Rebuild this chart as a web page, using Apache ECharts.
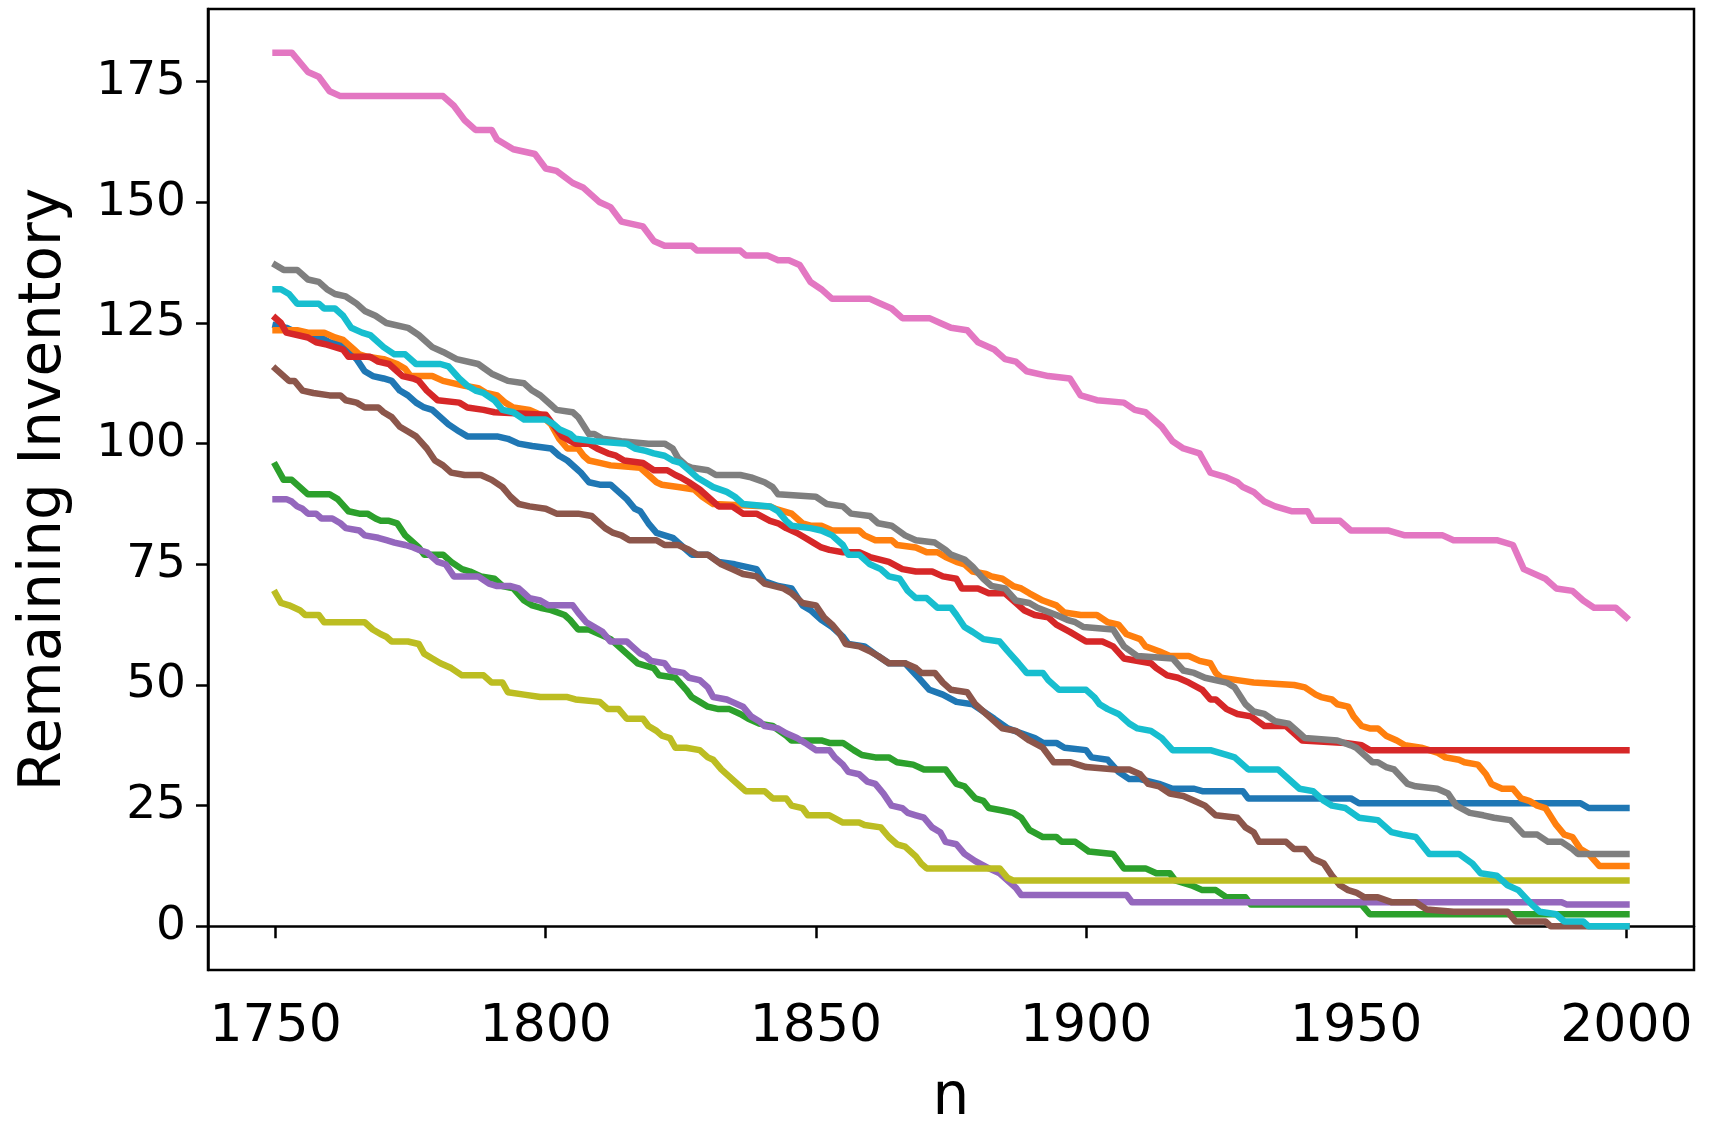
<!DOCTYPE html>
<html>
<head>
<meta charset="utf-8">
<title>Remaining Inventory</title>
<script src="https://cdn.jsdelivr.net/npm/echarts@6/dist/echarts.min.js"></script>
<style>
  html, body { margin: 0; padding: 0; background: #fff; }
  #chart { width: 1709px; height: 1125px; }
</style>
</head>
<body>
<div id="chart"></div>
<script>
// tick labels
var xTicks = [1750, 1800, 1850, 1900, 1950, 2000];
var yTicks = [0, 25, 50, 75, 100, 125, 150, 175];

// tab10 colours, in plotting order
var colors = ['#1f77b4', '#ff7f0e', '#2ca02c', '#d62728', '#9467bd',
              '#8c564b', '#e377c2', '#7f7f7f', '#bcbd22', '#17becf'];

// [n, remaining inventory]
var blue = [[1750,124.5],[1752,124],[1754,123],[1756.5,122],[1758.5,122],[1760,121],[1762,120.5],[1763.5,119],[1765,117.5],[1766.5,115],[1768,114],[1770,113.5],[1771.5,113],[1773,111],[1774.5,110],[1776,108.5],[1777.5,107.5],[1779,107],[1780.5,105.5],[1782,104],[1784,102.5],[1785.5,101.5],[1791,101.5],[1793,101],[1795,100],[1797.5,99.5],[1801,99],[1802.5,97.5],[1804,96.5],[1805.5,95],[1806.5,94],[1808,92],[1810,91.5],[1812,91.5],[1813.5,90],[1815,88.5],[1816.5,86.5],[1817.5,86],[1819,83.5],[1820.5,81.5],[1822,81],[1823.5,80.5],[1825,79],[1827,77],[1830,77],[1832,75.5],[1835,75],[1839,74],[1840.5,71.5],[1843,70.5],[1845.5,70],[1847.5,66.5],[1849,65.5],[1851,63.5],[1853,62],[1855,60],[1856,58.5],[1859,58],[1861.5,56],[1863.5,54.5],[1866.5,54.5],[1869,51.5],[1871,49],[1873.5,48],[1876,46.5],[1879,46],[1881,44.5],[1883,43],[1885.5,41],[1888,40],[1890.5,39],[1892,38],[1894.5,38],[1896,37],[1900,36.5],[1901,35],[1904,34.5],[1906,32],[1908,30.5],[1910,30.5],[1913.5,29.5],[1916,28.5],[1920,28.5],[1921.5,28],[1929,28],[1930,26.5],[1949,26.5],[1950.5,25.5],[1991.5,25.5],[1993,24.5],[2000,24.5]];

var orange = [[1750,123.5],[1754,123.5],[1756,123],[1759,123],[1761,122],[1762.5,121.5],[1763.5,120.5],[1764.5,119.5],[1765.5,118.5],[1767,118],[1770,117.5],[1772.5,116.5],[1774,115.5],[1775,114],[1779,114],[1781,113],[1783,112.5],[1785,112],[1787.5,111.5],[1789,110.5],[1791,110],[1792.5,108.5],[1794,107.5],[1797,107],[1799,106],[1801,104],[1802.5,101],[1804,99],[1806,99],[1807,97.5],[1808,96.5],[1810,96],[1812,95.5],[1817.5,95],[1819,93.5],[1820.5,92],[1821.5,91.5],[1824.5,91],[1827.5,90.5],[1829,89],[1831,87.5],[1841.5,87],[1842.5,86.5],[1845.5,85.5],[1847.5,83.5],[1849,83],[1851,83],[1853,82],[1858,82],[1859,81],[1861,80],[1864,80],[1865,79],[1868.5,78.5],[1870.5,77.5],[1872.5,77.5],[1874,76.5],[1876,75.5],[1877.5,75],[1879,73.5],[1881.5,73],[1882.5,72.5],[1884.5,72],[1886.5,70.5],[1888,70],[1889.5,69],[1892,67.5],[1894.5,66.5],[1896,65],[1899,64.5],[1902,64.5],[1904,63],[1906,62.5],[1907.5,60.5],[1910,59.5],[1911,58],[1913.5,57],[1915.5,56],[1919,56],[1921,55],[1923,54.5],[1924,52.5],[1925,51.5],[1928,51],[1931,50.5],[1938.5,50],[1940.5,49.5],[1942.5,48],[1943.5,47.5],[1945.5,47],[1946.5,46],[1948.5,45.5],[1949.5,43.5],[1951,41.5],[1952.5,41],[1954,41],[1955.5,39.5],[1957.5,38.5],[1959,37.5],[1962,37],[1965,36],[1966.5,35],[1969,34.5],[1970,34],[1972.5,33.5],[1974,31.5],[1975,29.5],[1977,28.5],[1979,28.5],[1980.5,26.5],[1982,26],[1983.5,25],[1985,24.5],[1987,21],[1988.5,19],[1990,18.5],[1991.5,16],[1993,15],[1995,12.5],[2000,12.5]];

var green = [[1750,95.5],[1751.5,92.5],[1753,92.5],[1754.5,91],[1756,89.5],[1760,89.5],[1761.5,88.5],[1763.5,86],[1765.5,85.5],[1767,85.5],[1768.5,84.5],[1769.5,84],[1771,84],[1772.5,83.5],[1774,81],[1775,80],[1776.5,78.5],[1777.5,77],[1781,77],[1782.5,75.5],[1784.5,74],[1786,73.5],[1788,72.5],[1790.5,72],[1792,70.5],[1794,70],[1796,67.5],[1797.5,66.5],[1799,66],[1801,65.5],[1803.5,64.5],[1804.5,63.5],[1806,61.5],[1808,61.5],[1810,60.5],[1812,59.5],[1813.5,58],[1815,56.5],[1817,54.5],[1820,53.5],[1821,52],[1824,51.5],[1826,49],[1827,47.5],[1828.5,46.5],[1830,45.5],[1832,45],[1834,45],[1836,44],[1837.5,43],[1839.5,42],[1842,41.5],[1844.5,39.5],[1845.5,38.5],[1851,38.5],[1852.5,38],[1855,38],[1857,36.5],[1858.5,35.5],[1861,35],[1863.5,35],[1865,34],[1868,33.5],[1870,32.5],[1874,32.5],[1876,29.5],[1877.5,29],[1879.5,26.5],[1881,26],[1882,24.5],[1884.5,24],[1886.5,23.5],[1888,22.5],[1889.5,20],[1892,18.5],[1894.5,18.5],[1895.5,17.5],[1898,17.5],[1900.5,15.5],[1905,15],[1907,12],[1911,12],[1913,11],[1915.5,11],[1916.5,9.5],[1919.5,8.5],[1921.5,7.5],[1924,7.5],[1926,6],[1929.5,6],[1930.5,4.5],[1934,4.5],[1951,4.5],[1952.5,2.5],[2000,2.5]];

var red = [[1750,126],[1751,125],[1752,123],[1754,122.5],[1756,122],[1757.5,121],[1759.5,120.5],[1761,120],[1762.5,119.5],[1763.5,118],[1767.5,118],[1769,117],[1771,116.5],[1772.5,115],[1773.5,114],[1775.5,113.5],[1776.5,113],[1778,111],[1780,109],[1784,108.5],[1785.5,107.5],[1788.5,107],[1790.5,106.5],[1800,106],[1802,103],[1803,101.5],[1805.5,100],[1808,100],[1809.5,99],[1811.5,98],[1813,97.5],[1814.5,96.5],[1818,96],[1820,94.5],[1822.5,94.5],[1824,93.5],[1825,93],[1826.5,92],[1828.5,90.5],[1830,89],[1832,87],[1834.5,87],[1836.5,85.5],[1839,85.5],[1841.5,84],[1843,83.5],[1844.5,82.5],[1846.5,81.5],[1848,80.5],[1849.5,79.5],[1851,78.5],[1852.5,78],[1855,77.5],[1858,77.5],[1860,76.5],[1863.5,75.5],[1866,74],[1868.5,73.5],[1871.5,73.5],[1873.5,72.5],[1876,72],[1877,70],[1880,70],[1882,69],[1885,69],[1887,67],[1888.5,65.5],[1890.5,64.5],[1893,64],[1894.5,62.5],[1897,61],[1900,59],[1903,59],[1905,58],[1907,55.5],[1912,54.5],[1913,53.5],[1915,52],[1917,51.5],[1919,50.5],[1921.5,49],[1923,47],[1924,47],[1926,45],[1928,44],[1930.5,43.5],[1933,41.5],[1937,41.5],[1940,38.5],[1948,38],[1951,37.5],[1952.5,36.5],[2000,36.5]];

var purple = [[1750,88.5],[1752,88.5],[1753,88],[1754,87],[1755,86.5],[1756,85.5],[1757.5,85.5],[1758.5,84.5],[1760.5,84.5],[1762,83.5],[1763,82.5],[1765.5,82],[1766.5,81],[1769,80.5],[1770.5,80],[1772,79.5],[1774,79],[1775.5,78.5],[1776.5,78],[1778,77.5],[1780,75.5],[1781.5,75],[1783,72.5],[1787.5,72.5],[1789.5,71],[1791,70.5],[1793.5,70.5],[1795,70],[1796,69],[1797,68],[1799,67.5],[1800.5,66.5],[1805,66.5],[1806,65],[1807.5,63],[1809,62],[1810.5,61],[1812,59],[1815,59],[1816,58],[1817.5,56.5],[1818.5,56],[1819.5,55],[1822,54.5],[1823,53],[1825.5,52.5],[1826.5,51.5],[1828.5,51],[1830,49.5],[1831,47.5],[1833.5,47],[1834.5,46.5],[1836.5,45.5],[1838,43.5],[1839.5,42.5],[1840.5,41.5],[1843,41],[1844.5,40],[1846.5,39],[1848,38],[1850,36.5],[1852.5,36.5],[1853.5,35],[1855,33.5],[1856,32],[1858,31.5],[1859.5,30],[1861,29.5],[1862.5,27.5],[1864,25],[1866,24.5],[1867,23.5],[1868.5,23],[1870,22.5],[1871.5,20.5],[1873,19.5],[1874,17.5],[1876,17],[1877.5,15],[1879.5,13.5],[1882,12],[1884,11],[1885.5,9.5],[1887,8],[1888,6.5],[1907.5,6.5],[1908.5,5],[1988,5],[1989,4.5],[2000,4.5]];

var brown = [[1750,115.5],[1751,114.5],[1752.5,113],[1753.5,113],[1755,111],[1757,110.5],[1760,110],[1762,110],[1763,109],[1765,108.5],[1766.5,107.5],[1769,107.5],[1770,106.5],[1771.5,105.5],[1773,103.5],[1774.5,102.5],[1776,101.5],[1778,99],[1779.5,96.5],[1781,95.5],[1782.5,94],[1785,93.5],[1788,93.5],[1790,92.5],[1792,91],[1793.5,89],[1795,87.5],[1797,87],[1800,86.5],[1802,85.5],[1806,85.5],[1808.5,85],[1809.5,84],[1811,82.5],[1812.5,81.5],[1814,81],[1815.5,80],[1820.5,80],[1822,79],[1824.5,79],[1826.5,78],[1828,77],[1830,77],[1832.5,75],[1834.5,74],[1836.5,73],[1839,72.5],[1840.5,71],[1844,70],[1845.5,69],[1847.5,67],[1850,66.5],[1851.5,64],[1853,62.5],[1854.5,60.5],[1855.5,58.5],[1858,58],[1860,57],[1861.5,56],[1863.5,54.5],[1866.5,54.5],[1868.5,53.5],[1869.5,52.5],[1872,52.5],[1873.5,50.5],[1875,49],[1878,48.5],[1879.5,46],[1882,43.5],[1884.5,41],[1887,40.5],[1889.5,38.5],[1892,37],[1893,35.5],[1894,34],[1897,34],[1900,33],[1905.5,32.5],[1908,32.5],[1910,31.5],[1911.5,29.5],[1913.5,29],[1915.5,27.5],[1918,27],[1920,26],[1922,25],[1924,23],[1928,22.5],[1929.5,20.5],[1931,19.5],[1932,17.5],[1937,17.5],[1938.5,16],[1940.5,16],[1942,14],[1944,13],[1945.5,10.5],[1947,8.5],[1948.5,7.5],[1950,7],[1951.5,6],[1954,6],[1956.5,5],[1961,5],[1963,3.5],[1968,3],[1978,3],[1979.5,1],[1985,1],[1986,0],[2000,0]];

var pink = [[1750,181],[1753,181],[1756,177],[1758,176],[1760,173],[1762,172],[1781,172],[1783,170],[1785,167],[1787,165],[1790,165],[1791,163],[1794,161],[1798,160],[1800,157],[1802,156.5],[1805,154],[1807,153],[1810,150],[1812,149],[1814,146],[1818,145],[1820,142],[1822,141],[1827,141],[1828,140],[1836,140],[1837,139],[1841,139],[1843,138],[1845,138],[1847,137],[1849,133.5],[1851,132],[1853,130],[1860,130],[1862,129],[1864,128],[1866,126],[1871,126],[1873,125],[1875,124],[1878,123.5],[1880,121],[1883,119.5],[1885,117.5],[1887,117],[1889,115],[1893,114],[1897,113.5],[1899,110],[1902,109],[1907,108.5],[1909,107],[1911,106.5],[1914,103.5],[1916,100.5],[1918,99],[1921,98],[1923,94],[1926,93],[1928,92],[1929,91],[1931,90],[1933,88],[1935,87],[1938,86],[1941,86],[1942,84],[1947,84],[1949,82],[1956,82],[1959,81],[1966,81],[1968,80],[1976,80],[1979,79],[1981,74],[1985,72],[1987,70],[1990,69.5],[1992,67.5],[1994,66],[1998,66],[2000,64]];

var gray = [[1750,137],[1751.5,136],[1754,136],[1756,134],[1758,133.5],[1759.5,132],[1761,131],[1763,130.5],[1765,129],[1766.5,127.5],[1768.5,126.5],[1770.5,125],[1774.5,124],[1776.5,122.5],[1779,120],[1781,119],[1783.5,117.5],[1787.5,116.5],[1790,114.5],[1793,113],[1796,112.5],[1797.5,111],[1799,110],[1801,108],[1802,107],[1805,106.5],[1806,105.5],[1808,102],[1809,102],[1810.5,101],[1814,100.5],[1819,100],[1822,100],[1823.5,99],[1824.5,97],[1826,95.5],[1827,95],[1830,94.5],[1831.5,93.5],[1836,93.5],[1838,93],[1840.5,92],[1842,91],[1843,89.5],[1850,89],[1852,87.5],[1855,87],[1856.5,85.5],[1860,85],[1861.5,83.5],[1864,83],[1866.5,81],[1868.5,80],[1872,79.5],[1874,78],[1875,77],[1877.5,76],[1879,74.5],[1881,72],[1882.5,70.5],[1885,70],[1887,67.5],[1889.5,67],[1891,66],[1894.5,64.5],[1896.5,63.5],[1898,63],[1899.5,62],[1905,61.5],[1907,58],[1909.5,56],[1916,55.5],[1918,53],[1920,52.5],[1922,51.5],[1926,50.5],[1927.5,49.5],[1929.5,46],[1931,44.5],[1933,44],[1935,42.5],[1937.5,42],[1939.5,40],[1940.5,39],[1946.5,38.5],[1949,37.5],[1950,37],[1951.5,35.5],[1953,34],[1954,34],[1955.5,33],[1957,32.5],[1959.5,29.5],[1961,29],[1965,28.5],[1967,27.5],[1968.5,25],[1971,23.5],[1973.5,23],[1975.5,22.5],[1978.5,22],[1981,19],[1983.5,19],[1985.5,17.5],[1988,17.5],[1990,16],[1991,15],[2000,15]];

var olive = [[1750,69],[1751,67],[1752.5,66.5],[1754.5,65.5],[1755.5,64.5],[1758,64.5],[1759,63],[1766.5,63],[1768,61.5],[1769.5,60.5],[1770.5,60],[1771.5,59],[1774.5,59],[1776.5,58.5],[1777.5,56.5],[1779,55.5],[1780.5,54.5],[1782.5,53.5],[1784.5,52],[1788.5,52],[1790,50.5],[1792,50.5],[1793,48.5],[1796,48],[1799,47.5],[1804,47.5],[1805.5,47],[1810,46.5],[1811.5,45],[1813.5,45],[1815,43],[1818,43],[1819,41.5],[1820.5,40.5],[1821.5,39.5],[1823,39],[1824,37],[1826,37],[1828.5,36.5],[1830,35],[1831,34.5],[1832.5,32.5],[1834.5,30.5],[1836,29],[1837,28],[1840.5,28],[1842,26.5],[1844.5,26.5],[1845.5,25],[1847.5,24.5],[1848.5,23],[1852.5,23],[1855,21.5],[1858,21.5],[1859,21],[1862,20.5],[1863.5,18.5],[1865,17],[1866.5,16.5],[1868.5,14.5],[1869.5,13],[1870.5,12],[1884,12],[1885.5,10],[1886.5,9.5],[2000,9.5]];

var cyan = [[1750,132],[1751,132],[1752.5,131],[1754,129],[1758,129],[1759,128],[1761,128],[1762.5,126.5],[1764,124],[1766,123],[1767.5,122.5],[1770,120],[1772,118.5],[1774,118.5],[1776,116.5],[1780.5,116.5],[1782,116],[1784,113.5],[1785.5,112],[1787,111],[1788.5,110.5],[1790.5,109],[1792,107],[1794,106.5],[1796,105],[1800,105],[1801.5,104],[1802.5,103],[1804.5,102],[1805.5,101],[1809,100.5],[1815,100],[1816.5,99],[1818.5,98.5],[1820,98],[1822,97.5],[1823.5,96.5],[1825,96],[1826.5,94.5],[1828,93],[1829.5,92],[1831,91],[1833.5,90],[1835,89],[1836.5,87.5],[1841.5,87],[1843,86],[1844.5,84],[1845.5,83],[1849,82.5],[1851,82],[1853,81],[1855,79],[1856,77],[1858,77],[1860,75],[1862,74],[1863.5,72.5],[1865.5,72],[1867,69.5],[1868.5,68],[1870.5,68],[1872.5,66],[1875,66],[1876,64.5],[1877.5,62],[1879,61],[1881,59.5],[1884,59],[1885.5,57],[1887.5,54.5],[1889,52.5],[1892,52.5],[1893,51],[1895,49],[1900,49],[1901.5,47.5],[1902.5,46],[1904,45],[1906,44],[1908,42],[1909.5,41],[1912,40.5],[1914,39],[1916,36.5],[1923,36.5],[1926,35.5],[1927.5,35],[1930,32.5],[1935.5,32.5],[1938,30],[1939.5,28.5],[1942,28],[1944,26],[1945.5,25],[1948,24.5],[1950.5,22.5],[1954,22],[1956.5,19.5],[1958.5,19],[1961,18.5],[1963.5,15],[1969,15],[1971.5,13],[1973,11],[1976,10.5],[1978,8.5],[1980,7.5],[1982.5,4.5],[1984,3],[1987,2.5],[1988.5,1],[1992,1],[1993,0],[2000,0]];

var allSeries = [blue, orange, green, red, purple, brown, pink, gray, olive, cyan];

var chart = echarts.init(document.getElementById('chart'), null, { renderer: 'canvas' });

var font = 'DejaVu Sans';

var option = {
  animation: false,
  backgroundColor: '#ffffff',
  grid: {
    left: 208, right: 15, top: 9, bottom: 155,
    outerBoundsMode: 'none',
    containLabel: false,
    show: true, borderColor: '#000', borderWidth: 2.5, backgroundColor: 'transparent'
  },
  xAxis: {
    type: 'value',
    min: 1737.5, max: 2012.5,
    name: 'n',
    nameLocation: 'middle',
    nameGap: 100,
    nameTextStyle: { fontFamily: font, fontSize: 58, color: '#000' },
    splitLine: { show: false },
    axisLine: { show: true, lineStyle: { color: '#000', width: 2.5 } },
    axisTick: { show: true, customValues: xTicks, length: 12, lineStyle: { color: '#000', width: 2.5 } },
    axisLabel: {
      customValues: xTicks, margin: 31, fontFamily: font, fontSize: 52, color: '#000',
      formatter: function (v) { return String(v); }
    }
  },
  yAxis: {
    type: 'value',
    min: -9.05, max: 190.05,
    name: 'Remaining Inventory',
    nameLocation: 'middle',
    nameGap: 134,
    nameTextStyle: { fontFamily: font, fontSize: 58, color: '#000' },
    splitLine: { show: false },
    axisLine: { show: true, lineStyle: { color: '#000', width: 2.5 } },
    axisTick: { show: true, customValues: yTicks, length: 12, lineStyle: { color: '#000', width: 2.5 } },
    axisLabel: {
      customValues: yTicks, margin: 22, fontFamily: font, fontSize: 47, color: '#000',
      formatter: function (v) { return String(v); }
    }
  },
  series: allSeries.map(function (d, i) {
    return {
      type: 'line',
      data: d,
      symbol: 'none',
      color: colors[i],
      z: 2 + i,
      lineStyle: { width: 6.5, color: colors[i], join: 'round', cap: 'square' }
    };
  })
};

chart.setOption(option);
</script>
</body>
</html>
